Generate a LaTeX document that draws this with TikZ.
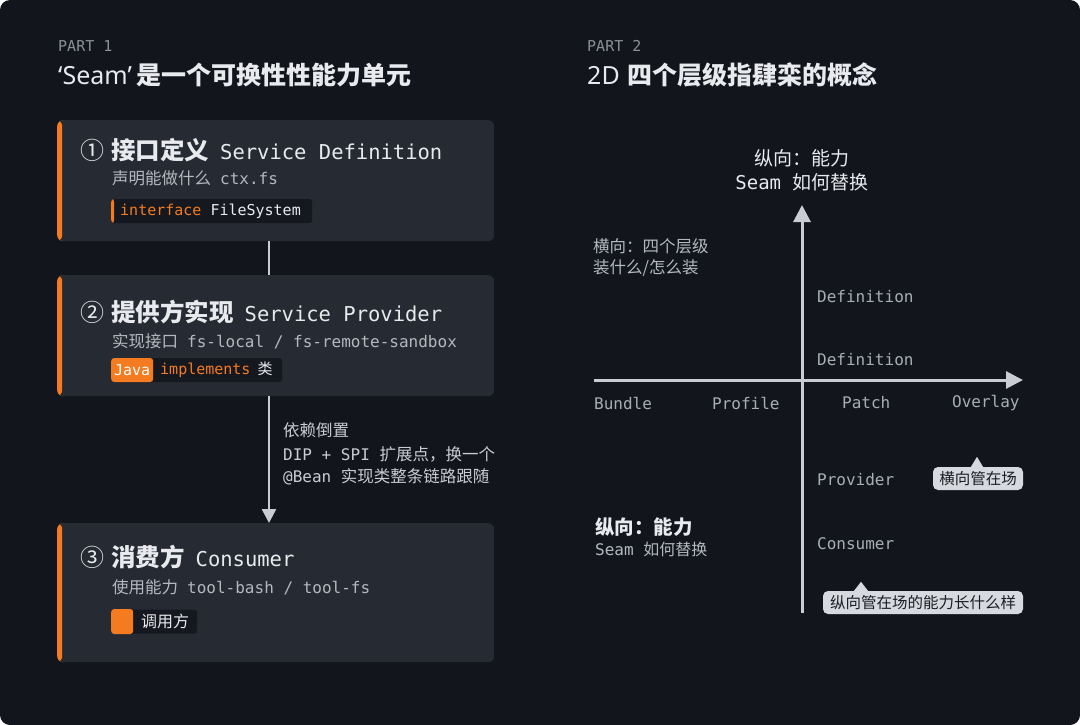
\documentclass[tikz,border=0pt]{standalone}
\usepackage{fontspec}
\setmainfont{Noto Sans CJK SC}
\newfontfamily\monof{DejaVu Sans Mono}
\newfontfamily\latf{Noto Sans}
\usetikzlibrary{arrows.meta}
\definecolor{bg}{HTML}{12151C}
\definecolor{card}{HTML}{252A33}
\definecolor{tagbg}{HTML}{15181E}
\definecolor{fg}{HTML}{E8EAED}
\definecolor{muted}{HTML}{B4B9C0}
\definecolor{dim}{HTML}{8A9099}
\definecolor{axis}{HTML}{C9CDD3}
\definecolor{accent}{HTML}{F47B20}
\definecolor{callfill}{HTML}{D6D9DD}
\definecolor{calltext}{HTML}{1B1E24}
\definecolor{lab}{HTML}{A9AEB5}
\newcommand\fsz[1]{\fontsize{#1}{#1}\selectfont}
\begin{document}
\begin{tikzpicture}[x=1pt,y=-1pt,
  t/.style={inner sep=0pt, anchor=west, text=fg},
  cardbox/.style={fill=card, rounded corners=6pt, minimum width=437pt, anchor=north west, inner sep=0pt,
    path picture={\fill[accent] (path picture bounding box.north west) rectangle ([xshift=5pt]path picture bounding box.south west);}},
  tagbox/.style={fill=tagbg, rounded corners=3pt, minimum height=24pt, anchor=west, inner sep=0pt},
  conn/.style={draw=axis, line width=2.5pt},
  axisline/.style={draw=axis, line width=3pt},
  callout/.style={fill=callfill, rounded corners=5pt, inner xsep=6pt, inner ysep=0pt, minimum height=23pt, text=calltext, font=\fsz{15.5}},
  hdr/.style={t, text=dim, font=\monof\fsz{15}},
  ttl/.style={t, font=\bfseries\fsz{25}},
  btitle/.style={t, font=\fsz{20.5}},
  bsub/.style={t, text=muted, font=\fsz{16.5}},
  tagtxt/.style={t, font=\monof\fsz{15}},
  axlab/.style={t, text=lab, font=\monof\fsz{16}},
]
\fill[white] (0,0) rectangle (1080,725);
\fill[bg, rounded corners=10pt] (0,0) rectangle (1080,725);
\useasboundingbox (0,0) rectangle (1080,725);

% ---------- PART 1 ----------
\node[hdr] (p1) at (58,46) {PART 1};
\node[ttl] (t1) at (58,75) {{\latf\mdseries ‘Seam’}\hspace{5pt}是一个可换性性能力单元};

% cards
\node[cardbox, minimum height=121pt] (b1) at (57,120) {};
\node[cardbox, minimum height=121pt] (b2) at (57,275) {};
\node[cardbox, minimum height=139pt] (b3) at (57,523) {};

% connectors
\coordinate (cx) at (269,0);
\draw[conn] (b1.south -| cx) -- (b2.north -| cx);
\draw[conn, -{Triangle[width=14pt,length=14pt]}] (b2.south -| cx) -- (b3.north -| cx);

% card 1
\node[btitle] (n1) at (80,150) {{\fsz{24}①}\hspace{7pt}{\bfseries\fsz{24.5}接口定义}\hspace{11pt}{\monof\fsz{20.5}Service Definition}};
\node[bsub] (s1) at (112,178) {声明能做什么\hspace{9pt}{\monof\fsz{16}ctx.fs}};
\node[tagbox, minimum width=201pt,
  path picture={\fill[accent] (path picture bounding box.north west) rectangle ([xshift=3pt]path picture bounding box.south west);}] (g1) at (111,211) {};
\node[tagtxt] (g1t) at (120,211) {\textcolor{accent}{interface} FileSystem};

% card 2
\node[btitle] (n2) at (80,312) {{\fsz{24}②}\hspace{7pt}{\bfseries\fsz{24.5}提供方实现}\hspace{11pt}{\monof\fsz{20.5}Service Provider}};
\node[bsub] (s2) at (112,341) {实现接口\hspace{9pt}{\monof\fsz{16}fs-local / fs-remote-sandbox}};
\node[tagbox, minimum width=171pt] (g2) at (111,370) {};
\node[fill=accent, rounded corners=3pt, minimum width=42pt, minimum height=24pt, anchor=west, inner sep=0pt, text=white, font=\monof\fsz{15}] (java) at (111,370) {Java};
\node[tagtxt] (g2t) at (160,370) {\textcolor{accent}{implements}\hspace{7pt}{\rmfamily 类}};

% arrow label
\node[bsub, text=axis] (a1) at (283,430) {依赖倒置};
\node[bsub, text=axis] (a2) at (283,454) {{\monof\fsz{16}DIP + SPI }扩展点，换一个};
\node[bsub, text=axis] (a3) at (283,477) {{\monof\fsz{16}@Bean }实现类整条链路跟随};

% card 3
\node[btitle] (n3) at (80,557) {{\fsz{24}③}\hspace{7pt}{\bfseries\fsz{24.5}消费方}\hspace{11pt}{\monof\fsz{20.5}Consumer}};
\node[bsub] (s3) at (112,587) {使用能力\hspace{9pt}{\monof\fsz{16}tool-bash / tool-fs}};
\node[tagbox, minimum width=86pt] (g3) at (111,621.5) {};
\node[fill=accent, rounded corners=3pt, minimum width=22pt, minimum height=25pt, anchor=west, inner sep=0pt] (sq) at (111,621.5) {};
\node[t, font=\fsz{16}] (g3t) at (141,621.5) {调用方};

% ---------- PART 2 ----------
\node[hdr] (p2) at (587,46) {PART 2};
\node[ttl] (t2) at (587,75) {{\latf\mdseries 2D}\hspace{8pt}四个层级指肆栾的概念};

% axes
\coordinate (vb) at (802,613);
\coordinate (vt) at (802,205);
\coordinate (hl) at (594,380);
\coordinate (hr) at (1023,380);
\draw[axisline, -{Triangle[width=17pt,length=17pt]}] (vb) -- (vt);
\draw[axisline, -{Triangle[width=17pt,length=17pt]}] (hl) -- (hr);

% top label
\node[inner sep=0pt, text=fg, font=\fsz{19}] (v1) at (802,158) {纵向：能力};
\node[inner sep=0pt, text=fg, font=\fsz{19}] (v2) at (802,182) {{\monof Seam }如何替换};

\node[t, text=muted, font=\fsz{16.5}] (h1) at (593,246) {横向：四个层级};
\node[t, text=muted, font=\fsz{16.5}] (h2) at (593,268) {装什么/怎么装};

\node[axlab] (d1) at (817,297) {Definition};
\node[axlab] (d2) at (817,360) {Definition};
\node[axlab] (x1) at (594,403) {Bundle};
\node[axlab] (x2) at (712,403) {Profile};
\node[axlab] (x3) at (842,403) {Patch};
\node[axlab] (x4) at (952,403) {Overlay};
\node[axlab] (q1) at (817,480) {Provider};
\node[axlab] (q2) at (817,544) {Consumer};

\node[t, font=\bfseries\fsz{19.5}] (l1) at (595,527) {纵向：能力};
\node[t, text=muted, font=\fsz{16}] (l2) at (595,549) {{\monof Seam }如何替换};

% callouts
\node[callout, minimum width=90pt] (c1) at (978,478.5) {横向管在场};
\fill[callfill] ([xshift=-7pt]c1.north) -- ([xshift=-1pt,yshift=10pt]c1.north) -- ([xshift=5pt]c1.north) -- cycle;
\node[callout, minimum width=200pt] (c2) at (923,602.5) {纵向管在场的能力长什么样};
\fill[callfill] ([xshift=-69pt]c2.north) -- ([xshift=-62pt,yshift=9pt]c2.north) -- ([xshift=-55pt]c2.north) -- cycle;
\end{tikzpicture}
\end{document}
